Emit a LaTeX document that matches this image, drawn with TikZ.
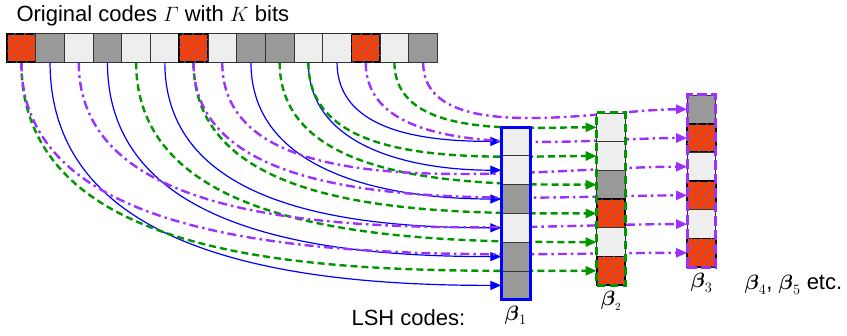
\documentclass[tikz,border=0pt]{standalone}
\usepackage{amsmath}
\usepackage{fontspec}
\setmainfont{Liberation Sans}
\usetikzlibrary{arrows.meta,patterns.meta,fit,positioning}
\pgfdeclarelayer{back}
\pgfsetlayers{back,main}
\definecolor{hotred}{RGB}{255,60,0}
\definecolor{hatchblue}{RGB}{70,120,180}
\definecolor{darkcell}{RGB}{153,153,153}
\definecolor{palecell}{RGB}{238,238,238}
\definecolor{lshgreen}{RGB}{0,150,0}
\definecolor{lshpurple}{RGB}{155,48,255}

\begin{document}
\begin{tikzpicture}[x=1pt,y=1pt,font=\fontsize{22}{26}\selectfont,
	cell/.style={draw=black!80,line width=0.8pt,minimum size=28.7pt,inner sep=0pt,outer sep=0pt},
	pale/.style={cell,fill=palecell},
	dark/.style={cell,fill=darkcell},
	hot/.style={cell,draw=black,line width=1.8pt,fill=hotred,
		postaction={pattern color=hatchblue,pattern={Lines[angle=45,distance=7pt,line width=0.7pt]}}},
	tip/.style={-{Triangle[length=11pt,width=9pt]}},
	lsha/.style={tip,draw=blue,line width=1.2pt},
	lshb/.style={tip,draw=lshgreen,line width=2.4pt,dash pattern=on 7pt off 4pt,looseness=0.92},
	lshc/.style={tip,draw=lshpurple,line width=2.4pt,dash pattern=on 9pt off 4pt on 2.5pt off 4pt,looseness=0.82},
	frame/.style={inner sep=0pt,line width=3pt}]
	\useasboundingbox (0,0) rectangle (847,-336);
	
	% original code
	\node[anchor=base west] (title) at (13,-22) {Original codes $\varGamma$ with $K$ bits};
	\foreach \c [count=\i] in {hot,dark,pale,dark,pale,pale,hot,pale,dark,dark,pale,pale,hot,pale,dark}
		\node[\c] (o\i) at ({21.35+28.7*(\i-1)},-48) {};
	
	% LSH codes
	\foreach \c [count=\j] in {pale,pale,dark,pale,dark,dark}
		\node[\c] (p\j) at (515.7,{-141.4-28.8*(\j-1)}) {};
	\foreach \c [count=\j] in {pale,pale,dark,hot,pale,hot}
		\node[\c] (q\j) at (611,{-127.3-28.7*(\j-1)}) {};
	\foreach \c [count=\j] in {dark,hot,pale,hot,pale,hot}
		\node[\c] (r\j) at (701.5,{-109.3-28.7*(\j-1)}) {};
	\node[frame,draw=blue,fit=(p1)(p6)] (beta1) {};
	\node[frame,draw=lshgreen,dash pattern=on 8pt off 5pt,fit=(q1)(q6)] (beta2) {};
	\node[frame,draw=lshpurple,dash pattern=on 10pt off 4pt,fit=(r1)(r6)] (beta3) {};
	
	\node[below=1pt of beta1] (name1) {$\boldsymbol{\beta}_1$};
	\node[below=1pt of beta2] (name2) {$\boldsymbol{\beta}_{\scriptscriptstyle 2}$};
	\node[below=1pt of beta3] (name3) {$\boldsymbol{\beta}_3$};
	\node[anchor=base west] (more) at (741,-290) {$\boldsymbol{\beta}_4$, $\boldsymbol{\beta}_5$ etc.};
	\node[anchor=base west] (lshname) at (348,-326) {LSH codes:};
	
	% connectors
	\begin{pgfonlayer}{back}
		\foreach \s/\t in {12/1,11/2,9/3,6/4,4/5,2/6}
			\draw[lsha] (o\s.south) to[out=-90,in=180] (p\t.west);
		\foreach \s/\t in {14/1,11/2,10/3,7/4,5/5,1/6}
			\draw[lshb] (o\s.south) to[out=-90,in=180] (q\t.west);
		\foreach \s/\t in {15/1,13/2,8/3,7/4,3/5,1/6}
			\draw[lshc] (o\s.south) to[out=-90,in=180] (r\t.west);
	\end{pgfonlayer}
\end{tikzpicture}
\end{document}
